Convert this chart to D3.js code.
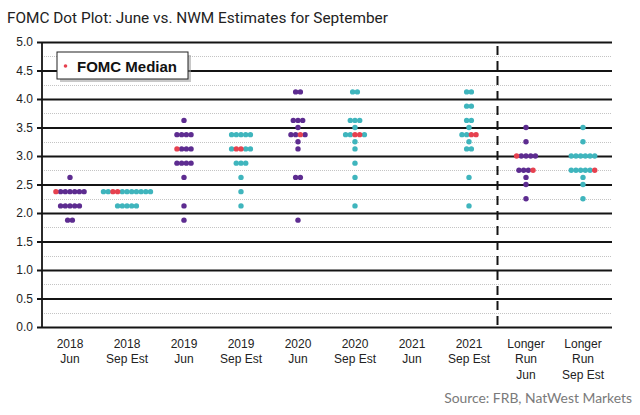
<!DOCTYPE html>
<html>
<head>
<meta charset="utf-8">
<script src="https://cdn.jsdelivr.net/npm/d3@7"></script>
<style>
  html, body { margin: 0; padding: 0; background: #fff; }
  svg { display: block; }
</style>
</head>
<body>
<svg id="chart" width="640" height="415"></svg>
<script>
// ---------------- DATA ----------------
const titleText = "FOMC Dot Plot: June vs. NWM Estimates for September";
const sourceText = "Source: FRB, NatWest Markets";
const legendText = "FOMC Median";

const categories = [
  ["2018", "Jun"], ["2018", "Sep Est"],
  ["2019", "Jun"], ["2019", "Sep Est"],
  ["2020", "Jun"], ["2020", "Sep Est"],
  ["2021", "Jun"], ["2021", "Sep Est"],
  ["Longer", "Run", "Jun"], ["Longer", "Run", "Sep Est"]
];
// which series each column belongs to
const columnSeries = ["Jun", "Sep", "Jun", "Sep", "Jun", "Sep", "Jun", "Sep", "Jun", "Sep"];

const rateTicks = [0, 0.5, 1, 1.5, 2, 2.5, 3, 3.5, 4, 4.5, 5];
const minorTicks = [0.25, 0.75, 1.25, 1.75, 2.25, 2.75, 3.25, 3.75, 4.25, 4.75];

// participant dots: [rate, number of dots]
const dots2018Jun = [[2.625, 1], [2.375, 6], [2.125, 5], [1.875, 2]];
const dots2018Sep = [[2.375, 9], [2.125, 5]];
const dots2019Jun = [[3.625, 1], [3.375, 4], [3.125, 3], [2.875, 4], [2.625, 1], [2.125, 1], [1.875, 1]];
const dots2019Sep = [[3.375, 5], [3.125, 3], [2.875, 3], [2.625, 1], [2.375, 1], [2.125, 1]];
const dots2020Jun = [[4.125, 2], [3.625, 3], [3.5, 1], [3.375, 3], [3.25, 1], [3.125, 1], [2.625, 2], [1.875, 1]];
const dots2020Sep = [[4.125, 2], [3.625, 3], [3.5, 1], [3.375, 3], [3.25, 1], [3.125, 1], [2.875, 1], [2.625, 1], [2.125, 1]];
const dots2021Jun = [];
const dots2021Sep = [[4.125, 2], [3.875, 2], [3.625, 2], [3.5, 1], [3.375, 2], [3.25, 1], [3.125, 2], [2.625, 1], [2.125, 1]];
const dotsLRJun = [[3.5, 1], [3.25, 1], [3.0, 4], [2.75, 3], [2.625, 1], [2.5, 1], [2.25, 1]];
const dotsLRSep = [[3.5, 1], [3.25, 1], [3.0, 6], [2.75, 5], [2.625, 1], [2.5, 1], [2.25, 1]];
const dotCounts = [dots2018Jun, dots2018Sep, dots2019Jun, dots2019Sep, dots2020Jun,
                   dots2020Sep, dots2021Jun, dots2021Sep, dotsLRJun, dotsLRSep];

// FOMC median markers: [rate, order within that rate's row]
const medians = [
  [[2.375, 0]],
  [[2.375, 2], [2.375, 3]],
  [[3.125, 0]],
  [[3.125, 1], [3.125, 2]],
  [[3.375, 2]],
  [[3.375, 2], [3.375, 3]],
  [],
  [[3.375, 2], [3.375, 3]],
  [[3.0, 0], [2.75, 3]],
  [[2.75, 5]]
];

// ---------------- STYLE ----------------
const colors = { Jun: "#5d2c90", Sep: "#3fb5bd", Median: "#e6414f" };
const W = 640, H = 415;
const margin = { left: 42, right: 28, top: 42, bottom: 88 };
const dotR = 2.7, dotStep = 4.7;

const svg = d3.select("#chart");

const x = d3.scaleBand()
  .domain(d3.range(categories.length))
  .range([margin.left - 0.5, W - margin.right - 0.5]);
const y = d3.scaleLinear().domain([0, 5]).range([H - margin.bottom, margin.top]);
const plotW = x.range()[1] - x.range()[0];

function fitWidth(sel, target) {
  const w = sel.node().getComputedTextLength();
  const fs = parseFloat(sel.attr("font-size"));
  sel.attr("font-size", fs * target / w);
}

// title
const title = svg.append("text")
  .attr("x", 7).attr("y", 23)
  .attr("font-family", "Roboto, 'Noto Sans', sans-serif")
  .attr("font-size", 16)
  .attr("fill", "#222")
  .text(titleText);
fitWidth(title, 381);

// minor dotted grid
svg.append("g").selectAll("line").data(minorTicks).join("line")
  .attr("x1", margin.left).attr("x2", margin.left + plotW)
  .attr("y1", d => Math.round(y(d)) + 0.5).attr("y2", d => Math.round(y(d)) + 0.5)
  .attr("stroke", "#c4c4c4").attr("stroke-width", 1).attr("stroke-dasharray", "1,1");

// y axis with major grid
const yAxis = d3.axisLeft(y).tickValues(rateTicks).tickFormat(d3.format(".1f"))
  .tickSizeInner(-plotW).tickSizeOuter(0).tickPadding(10);
const gy = svg.append("g").attr("transform", `translate(${margin.left},0)`).call(yAxis);
gy.select(".domain").remove();
gy.selectAll(".tick line")
  .attr("x1", -5).attr("x2", plotW)
  .attr("stroke", "#141414").attr("stroke-width", 1.8);
gy.selectAll(".tick text")
  .attr("x", -9)
  .attr("font-family", "'Liberation Sans', Arial, sans-serif")
  .attr("font-size", 12).attr("fill", "#222");

// vertical axis line
svg.append("line")
  .attr("x1", margin.left).attr("x2", margin.left)
  .attr("y1", y(5)).attr("y2", y(0))
  .attr("stroke", "#141414").attr("stroke-width", 1.8);

// dashed separator before Longer Run
svg.append("line")
  .attr("x1", x(8)).attr("x2", x(8))
  .attr("y1", y(5) + 4).attr("y2", y(0) + 1)
  .attr("stroke", "#141414").attr("stroke-width", 2)
  .attr("stroke-dasharray", "9,6");

// x axis labels
const xAxis = d3.axisBottom(x).tickSize(0).tickFormat("");
const gx = svg.append("g").attr("transform", `translate(0,${y(0)})`).call(xAxis);
gx.select(".domain").remove();
gx.selectAll(".tick").each(function (i) {
  const t = d3.select(this).append("text")
    .attr("text-anchor", "middle")
    .attr("font-family", "'Liberation Sans', Arial, sans-serif")
    .attr("font-size", 12).attr("fill", "#222");
  categories[i].forEach((line, k) => {
    t.append("tspan").attr("x", 0).attr("y", 20.5 + k * 15.5).text(line);
  });
});

// build dot layout
const points = [];
categories.forEach((c, i) => {
  const cx = x(i) + x.bandwidth() / 2;
  const rows = new Map();
  dotCounts[i].forEach(([v, n]) => rows.set(v, { n, med: [] }));
  medians[i].forEach(([v, slot]) => {
    if (!rows.has(v)) rows.set(v, { n: 0, med: [] });
    rows.get(v).med.push(slot);
  });
  rows.forEach((r, v) => {
    const total = r.n + r.med.length;
    for (let k = 0; k < total; k++) {
      const isMed = r.med.includes(k);
      points.push({
        x: cx + (k - (total - 1) / 2) * dotStep,
        y: y(v),
        color: isMed ? colors.Median : colors[columnSeries[i]],
        med: isMed
      });
    }
  });
});
points.sort((a, b) => a.med - b.med);
svg.append("g").selectAll("circle").data(points).join("circle")
  .attr("cx", d => d.x).attr("cy", d => d.y).attr("r", dotR)
  .attr("fill", d => d.color);

// legend
const lg = svg.append("g").attr("transform", "translate(57,52)");
lg.append("rect").attr("x", 3).attr("y", 3).attr("width", 131).attr("height", 27).attr("fill", "#9a9a9a").attr("opacity", 0.55);
lg.append("rect").attr("x", 0).attr("y", 0).attr("width", 131).attr("height", 27)
  .attr("fill", "#fff").attr("stroke", "#222").attr("stroke-width", 1);
lg.append("circle").attr("cx", 8.5).attr("cy", 14).attr("r", 1.8).attr("fill", colors.Median);
lg.append("text").attr("x", 20).attr("y", 19.5)
  .attr("font-family", "'Liberation Sans', Arial, sans-serif")
  .attr("font-weight", "bold").attr("font-size", 15).attr("fill", "#111")
  .text(legendText);

// source
const src = svg.append("text")
  .attr("x", 632).attr("y", 403).attr("text-anchor", "end")
  .attr("font-family", "Lato, 'Open Sans', sans-serif")
  .attr("font-size", 15).attr("fill", "#7a7a7a")
  .text(sourceText);
fitWidth(src, 188);
</script>
</body>
</html>
